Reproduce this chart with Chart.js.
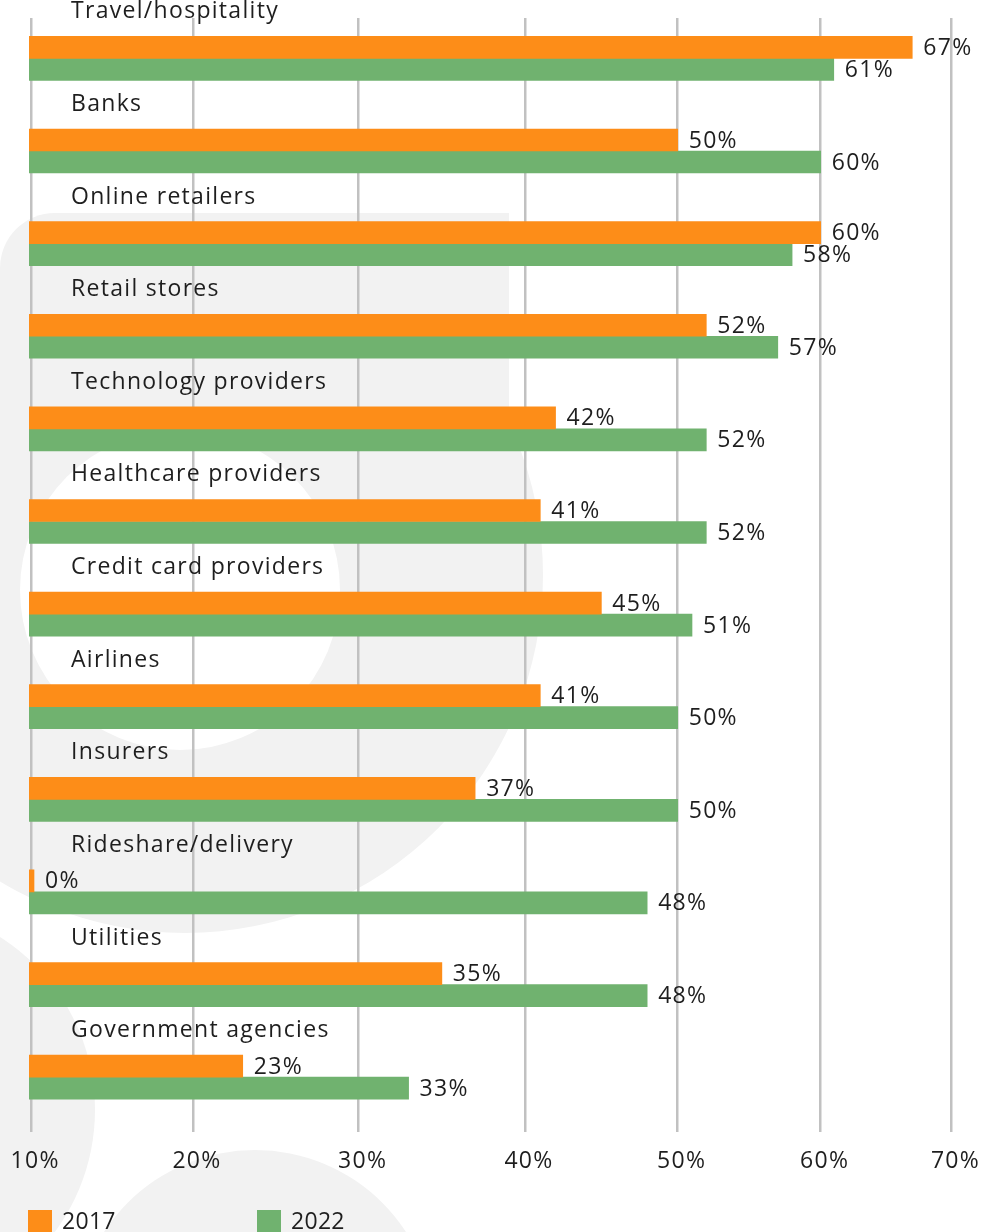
<!DOCTYPE html>
<html>
<head>
<meta charset="utf-8">
<script src="https://cdn.jsdelivr.net/npm/chart.js@4.4.1/dist/chart.umd.min.js"></script>
<style>
  html, body { margin: 0; padding: 0; background: #fff; overflow: hidden; }
  #wrap { position: relative; width: 987px; height: 1232px; overflow: hidden; font-family: 'Open Sans', sans-serif; color: #1e1e1e; }
  #bg { position: absolute; left: 0; top: 0; }
  #chartBox { position: absolute; left: 0; top: 0; width: 987px; height: 1232px; }
  .lg-box { position: absolute; top: 1210px; width: 24px; height: 24px; }
  .lg-txt { position: absolute; top: 1208px; font-size: 23px; line-height: 24px; letter-spacing: 0.3px; white-space: nowrap; }
</style>
</head>
<body>
<div id="wrap">
  <svg id="bg" width="987" height="1232">
    <g fill="#f2f2f2">
      <path d="M0,268 A55,55 0 0 1 55,213 H509 V575 H0 Z"/>
      <circle cx="185" cy="575" r="358"/>
      <circle cx="-110" cy="1110" r="205"/>
      <circle cx="255" cy="1330" r="180"/>
    </g>
    <circle cx="180" cy="590" r="160" fill="#ffffff"/>
  </svg>
  <div id="chartBox"><canvas id="c"></canvas></div>
  <div id="legend"></div>
</div>
<script>
// ---- data ----
const categories = [
  'Travel/hospitality', 'Banks', 'Online retailers', 'Retail stores',
  'Technology providers', 'Healthcare providers', 'Credit card providers',
  'Airlines', 'Insurers', 'Rideshare/delivery', 'Utilities', 'Government agencies'
];
const values2017 = [67, 50, 60, 52, 42, 41, 45, 41, 37, 0, 35, 23];
const values2022 = [61, 60, 58, 57, 52, 52, 51, 50, 50, 48, 48, 33];
const seriesNames = ['2017', '2022'];
const tickValues = [10, 20, 30, 40, 50, 60, 70];

// ---- styles ----
const ORANGE = '#FD8D18';
const GREEN = '#70B26F';
const TEXT = '#1e1e1e';
const FONT = "'Open Sans', 'Noto Sans', sans-serif";
const FONT_SIZE = 23;
const LETTER_SPACING = '1.3px';

// ---- a linear scale whose gridlines sit at uneven positions (as in the source graphic) ----
class KnotScale extends Chart.LinearScale {
  _toFrac(value) {
    const k = this.options.knots;
    const v = k.values, f = k.fractions, n = v.length;
    let i = 1;
    while (i < n - 1 && value > v[i]) i++;
    return f[i - 1] + (value - v[i - 1]) * (f[i] - f[i - 1]) / (v[i] - v[i - 1]);
  }
  _fromFrac(frac) {
    const k = this.options.knots;
    const v = k.values, f = k.fractions, n = f.length;
    let i = 1;
    while (i < n - 1 && frac > f[i]) i++;
    return v[i - 1] + (frac - f[i - 1]) * (v[i] - v[i - 1]) / (f[i] - f[i - 1]);
  }
  getPixelForValue(value) {
    return value === null ? NaN : this.getPixelForDecimal(this._toFrac(value));
  }
  getValueForPixel(pixel) {
    return this._fromFrac(this.getDecimalForPixel(pixel));
  }
}
KnotScale.id = 'knotLinear';
KnotScale.defaults = Chart.LinearScale.defaults;
Chart.register(KnotScale);

// ---- text spacing (wide geometric face of the original) ----
const spacingPlugin = {
  id: 'letterSpacing',
  beforeDraw(chart) { chart.ctx.letterSpacing = LETTER_SPACING; }
};

// ---- labels plugin (category names above bars, value labels after bars) ----
const labelPlugin = {
  id: 'barLabels',
  afterDatasetsDraw(chart) {
    const ctx = chart.ctx;
    const yScale = chart.scales.y;
    const left = chart.chartArea.left;
    ctx.save();
    ctx.letterSpacing = LETTER_SPACING;
    ctx.fillStyle = TEXT;
    ctx.font = FONT_SIZE + 'px ' + FONT;
    ctx.textAlign = 'left';
    ctx.textBaseline = 'alphabetic';
    categories.forEach((name, i) => {
      ctx.fillText(name, left + 42, yScale.getPixelForValue(i) - 40);
    });
    ctx.textBaseline = 'middle';
    chart.data.datasets.forEach((ds, di) => {
      chart.getDatasetMeta(di).data.forEach((bar, i) => {
        ctx.fillText(ds.data[i].x + '%', bar.x + 11, bar.y + 1);
      });
    });
    ctx.restore();
  }
};

const toPoints = vals => vals.map((v, i) => ({ x: v, y: i }));

new Chart(document.getElementById('c'), {
  type: 'bar',
  data: {
    datasets: [
      { label: seriesNames[0], data: toPoints(values2017), backgroundColor: ORANGE, barThickness: 22, minBarLength: 5, borderWidth: 0 },
      { label: seriesNames[1], data: toPoints(values2022), backgroundColor: GREEN, barThickness: 22, minBarLength: 5, borderWidth: 0 }
    ]
  },
  options: {
    indexAxis: 'y',
    responsive: true,
    maintainAspectRatio: false,
    animation: false,
    layout: { padding: { top: 18, left: 29, right: 35.5, bottom: 56.4 } },
    plugins: { legend: { display: false }, tooltip: { enabled: false } },
    scales: {
      x: {
        type: 'knotLinear',
        min: 0,
        max: 70,
        knots: {
          values: [0, 10, 20, 30, 40, 50, 60, 70],
          fractions: [0, 0.0024, 0.1778, 0.3574, 0.5377, 0.7032, 0.8582, 1]
        },
        afterBuildTicks: scale => { scale.ticks = tickValues.map(v => ({ value: v })); },
        grid: { color: '#c1c1c1', lineWidth: 2.5, drawTicks: true, tickLength: 16, tickColor: 'rgba(0,0,0,0)' },
        border: { display: false },
        ticks: {
          padding: 0,
          labelOffset: 4,
          color: TEXT,
          autoSkip: false,
          maxRotation: 0,
          font: { size: FONT_SIZE, family: FONT },
          callback: v => v + '%'
        }
      },
      y: {
        type: 'linear',
        reverse: true,
        min: -0.436,
        max: 11.592,
        bounds: 'data',
        offset: false,
        display: false
      }
    }
  },
  plugins: [spacingPlugin, labelPlugin]
});

// ---- legend ----
const legend = document.getElementById('legend');
const legendColors = [ORANGE, GREEN];
const legendLeft = [28, 257];
seriesNames.forEach((name, i) => {
  const box = document.createElement('div');
  box.className = 'lg-box';
  box.style.left = legendLeft[i] + 'px';
  box.style.background = legendColors[i];
  const txt = document.createElement('div');
  txt.className = 'lg-txt';
  txt.style.left = (legendLeft[i] + 34) + 'px';
  txt.textContent = name;
  legend.appendChild(box);
  legend.appendChild(txt);
});
</script>
</body>
</html>
